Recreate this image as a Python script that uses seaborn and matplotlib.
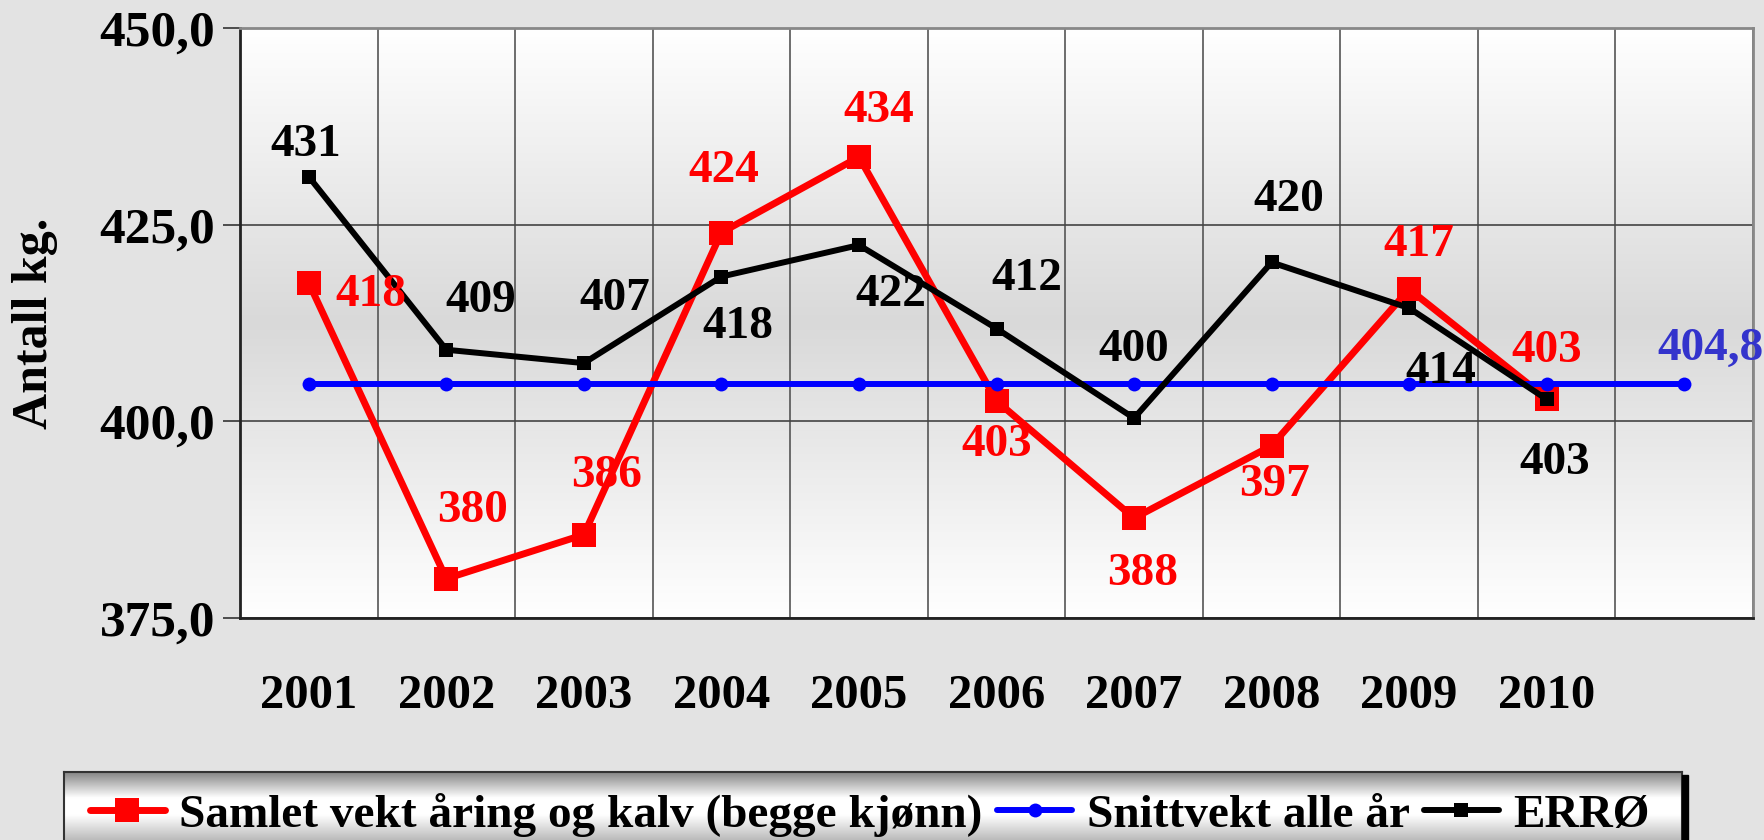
import numpy as np
import pandas as pd
import matplotlib
matplotlib.use("Agg")
import matplotlib.pyplot as plt
import seaborn as sns
from matplotlib.colors import LinearSegmentedColormap
from matplotlib.patches import Rectangle
from matplotlib.ticker import FuncFormatter

# data
years = ["2001", "2002", "2003", "2004", "2005", "2006", "2007", "2008", "2009", "2010", ""]
samlet = [417.6, 380.0, 385.6, 424.0, 433.6, 402.6, 387.7, 396.9, 416.8, 402.9]
errø = [431.1, 409.1, 407.4, 418.4, 422.4, 411.8, 400.4, 420.2, 414.4, 402.8]
snitt = [404.8] * 11

names = ["Samlet vekt åring og kalv (begge kjønn)", "Snittvekt alle år", "ERRØ"]

# label offsets in points (dx, dy)
red_off = [(45, -9), (19, 49), (16, 42), (2, 44), (14, 33), (0, -32), (6, -40), (2, -28), (7, 32), (0, 34)]
black_off = [(-2, 23), (25, 35), (22, 46), (12, -36), (23, -36), (22, 36), (0, 49), (12, 45), (23, -46), (6, -46)]
blue_off = (19, 25)

sns.set_theme(style="white")
plt.rcParams["font.family"] = ["Liberation Serif", "DejaVu Serif"]
plt.rcParams["font.weight"] = "bold"
for k in ["text.color", "axes.labelcolor", "xtick.labelcolor", "ytick.labelcolor"]:
    plt.rcParams[k] = "black"

bg = "#e3e3e3"
fig = plt.figure(figsize=(17.64, 8.4), dpi=100, facecolor=bg)
ax = fig.add_axes([240 / 1764, 222 / 840, 1513 / 1764, 590 / 840])

# white-grey-white gradient inside the plot area
grad = np.linspace(0, 1, 256).reshape(-1, 1)
cmap = LinearSegmentedColormap.from_list("g", ["#ffffff", "#d9d9d9", "#ffffff"])
ax.imshow(grad, extent=[-0.5, 10.5, 375, 450], aspect="auto", cmap=cmap, zorder=0)

pos = np.arange(len(years))
sns.lineplot(x=pos[:len(samlet)], y=samlet, ax=ax, color="#ff0000", linewidth=5,
             marker="s", markersize=17, markeredgewidth=0, label=names[0], zorder=3)
sns.lineplot(x=pos, y=snitt, ax=ax, color="#0000ff", linewidth=4.3,
             marker="o", markersize=10, markeredgewidth=0, label=names[1], zorder=4)
sns.lineplot(x=pos[:len(errø)], y=errø, ax=ax, color="#000000", linewidth=4.3,
             marker="s", markersize=10, markeredgewidth=0, label=names[2], zorder=5)

for i, v in enumerate(samlet):
    ax.annotate(f"{v:.0f}", (pos[i], v), xytext=red_off[i], textcoords="offset points",
                ha="center", va="center", color="#ff0000", fontsize=34, fontweight="bold", zorder=6)
for i, v in enumerate(errø):
    ax.annotate(f"{v:.0f}", (pos[i], v), xytext=black_off[i], textcoords="offset points",
                ha="center", va="center", color="black", fontsize=34, fontweight="bold", zorder=6)
ax.annotate(f"{snitt[-1]:.1f}".replace(".", ","), (pos[-1], snitt[-1]), xytext=blue_off,
            textcoords="offset points", ha="center", va="center", color="#3333cc",
            fontsize=34, fontweight="bold", zorder=6, annotation_clip=False)

ax.set_xlim(-0.5, 10.5)
ax.set_ylim(375, 450)
ax.set_xticks(pos)
ax.set_xticklabels(years)
ax.set_xticks(np.arange(-0.5, 11, 1), minor=True)
ax.set_yticks([375, 400, 425, 450])
ax.yaxis.set_major_formatter(FuncFormatter(lambda v, p: f"{v:.1f}".replace(".", ",")))
ax.grid(which="minor", axis="x", color="#555555", linewidth=1.2)
ax.grid(which="major", axis="y", color="#444444", linewidth=1.2)
ax.grid(which="major", axis="x", visible=False)
ax.tick_params(axis="x", which="both", length=0, labelsize=35, pad=40, labelcolor="black")
ax.tick_params(axis="y", length=12, width=1.2, color="#333333", labelsize=37, pad=6,
               left=True, labelcolor="black")
for lab in ax.get_xticklabels() + ax.get_yticklabels():
    lab.set_fontweight("bold")
for s in ["left", "bottom"]:
    ax.spines[s].set_color("#222222")
    ax.spines[s].set_linewidth(2)
for s in ["top", "right"]:
    ax.spines[s].set_color("#888888")
    ax.spines[s].set_linewidth(2)
ax.set_ylabel("Antall kg.", fontsize=36, fontweight="bold", color="black", labelpad=30)
ax.set_xlabel("")

handles, labels = ax.get_legend_handles_labels()
ax.get_legend().remove()

# legend box with grey-white-grey gradient and a dark shadow
fig.patches.append(Rectangle((1682 / 1764, -0.1), 6 / 1764, 0.1 + 65 / 840,
                             transform=fig.transFigure, color="black", zorder=0))
lax = fig.add_axes([64 / 1764, -10 / 840, 1618 / 1764, 78 / 840])
lgrad = np.linspace(0, 1, 256).reshape(-1, 1)
lcmap = LinearSegmentedColormap.from_list("lg", [(0, "#858585"), (0.33, "#ffffff"),
                                                 (0.55, "#ffffff"), (1, "#a0a0a0")])
lax.imshow(lgrad, extent=[0, 1, 0, 1], aspect="auto", cmap=lcmap)
lax.set_xticks([])
lax.set_yticks([])
for s in lax.spines.values():
    s.set_color("#333333")
    s.set_linewidth(1.5)

fig.legend(handles, labels, loc="center", bbox_to_anchor=(0.493, 0.03), ncol=3,
           frameon=False, handlelength=1.6, handletextpad=0.3,
           columnspacing=0.3, prop={"weight": "bold", "size": 34})

fig.savefig("out.png", dpi=100, facecolor=bg)
